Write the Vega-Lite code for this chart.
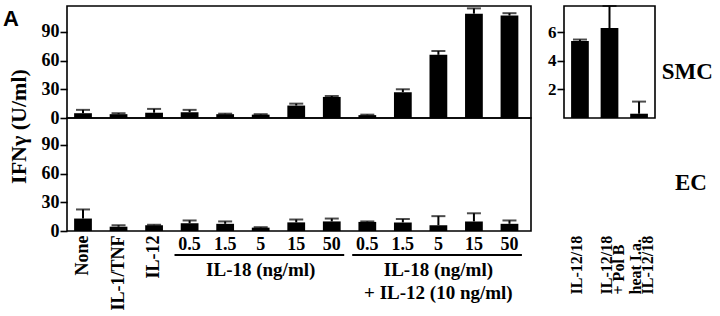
{
  "$schema": "https://vega.github.io/schema/vega-lite/v6.json",
  "padding": {"left": 2, "top": 4, "right": 2, "bottom": 2},
  "config": {
    "view": {"stroke": "black", "strokeWidth": 1.6},
    "font": "Liberation Serif",
    "axis": {"labelFont": "Liberation Serif", "labelFontWeight": "bold", "labelColor": "black", "titleColor": "black", "tickColor": "black", "tickWidth": 1.6, "domainColor": "black", "grid": false, "labelOverlap": false},
    "title": {"color": "black"}
  },
  "datasets": {
    "smc": [
      {"cond": "None", "value": 5, "hi": 8.5},
      {"cond": "IL-1/TNF", "value": 4, "hi": 5},
      {"cond": "IL-12", "value": 5.5, "hi": 9.5},
      {"cond": "IL-18 0.5", "value": 6, "hi": 8.5},
      {"cond": "IL-18 1.5", "value": 4, "hi": 4.5},
      {"cond": "IL-18 5", "value": 3.5, "hi": 4},
      {"cond": "IL-18 15", "value": 13, "hi": 15},
      {"cond": "IL-18 50", "value": 22, "hi": 23},
      {"cond": "IL-18+IL-12 0.5", "value": 3, "hi": 3.5},
      {"cond": "IL-18+IL-12 1.5", "value": 27, "hi": 30},
      {"cond": "IL-18+IL-12 5", "value": 66, "hi": 70},
      {"cond": "IL-18+IL-12 15", "value": 109, "hi": 114.5},
      {"cond": "IL-18+IL-12 50", "value": 107, "hi": 109.5}
    ],
    "ec": [
      {"cond": "None", "value": 13, "hi": 22.5},
      {"cond": "IL-1/TNF", "value": 4.5, "hi": 6},
      {"cond": "IL-12", "value": 6, "hi": 6.5},
      {"cond": "IL-18 0.5", "value": 8, "hi": 11},
      {"cond": "IL-18 1.5", "value": 7.5, "hi": 10},
      {"cond": "IL-18 5", "value": 3.5, "hi": 4},
      {"cond": "IL-18 15", "value": 9, "hi": 12},
      {"cond": "IL-18 50", "value": 10, "hi": 13},
      {"cond": "IL-18+IL-12 0.5", "value": 9.5, "hi": 10},
      {"cond": "IL-18+IL-12 1.5", "value": 9, "hi": 12.5},
      {"cond": "IL-18+IL-12 5", "value": 6, "hi": 15.5},
      {"cond": "IL-18+IL-12 15", "value": 10, "hi": 18.5},
      {"cond": "IL-18+IL-12 50", "value": 7.5, "hi": 11}
    ],
    "inset": [
      {"cond": "IL-12/18", "value": 5.4, "hi": 5.5},
      {"cond": "IL-12/18\n+ Pol B", "value": 6.3, "hi": 7.85},
      {"cond": "heat I.a.\nIL-12/18", "value": 0.3, "hi": 1.15}
    ],
    "groups": [
      {"first": "IL-18 0.5", "mid": "IL-18 5", "last": "IL-18 50", "label": "IL-18 (ng/ml)"},
      {"first": "IL-18+IL-12 0.5", "mid": "IL-18+IL-12 5", "last": "IL-18+IL-12 50", "label": "IL-18 (ng/ml)\n+ IL-12 (10 ng/ml)"}
    ]
  },
  "concat": [
    {
      "width": 464,
      "height": 112,
      "data": {"name": "smc"},
      "title": {"text": "A", "orient": "top", "anchor": "start", "frame": "group", "font": "Liberation Sans", "fontSize": 22, "fontWeight": "bold", "offset": -18, "baseline": "alphabetic", "dx": -64, "dy": 24},
      "encoding": {
        "x": {"field": "cond", "type": "nominal", "axis": null,
          "scale": {"domain": ["None", "IL-1/TNF", "IL-12", "IL-18 0.5", "IL-18 1.5", "IL-18 5", "IL-18 15", "IL-18 50", "IL-18+IL-12 0.5", "IL-18+IL-12 1.5", "IL-18+IL-12 5", "IL-18+IL-12 15", "IL-18+IL-12 50"], "paddingInner": 0.5, "paddingOuter": 0.278, "align": 0.36}}
      },
      "layer": [
        {
          "mark": {"type": "bar", "color": "black"},
          "encoding": {
            "y": {"field": "value", "type": "quantitative", "scale": {"domain": [0, 117], "nice": false},
              "axis": {"values": [0, 30, 60, 90], "tickCount": 10, "domain": false, "tickSize": 7, "labelPadding": 1, "labelFontSize": 18, "labelOverlap": false,
                "title": "IFNγ (U/ml)", "titleFont": "Liberation Serif", "titleFontWeight": "bold", "titleFontSize": 22,
                "titleAngle": 270, "titleX": -42, "titleY": 120, "titleAlign": "center", "titleBaseline": "alphabetic"}}
          }
        },
        {
          "mark": {"type": "rule", "color": "black", "strokeWidth": 2},
          "encoding": {"y": {"field": "value", "type": "quantitative"}, "y2": {"field": "hi"}}
        },
        {
          "mark": {"type": "tick", "color": "black", "thickness": 2, "size": 14},
          "encoding": {"y": {"field": "hi", "type": "quantitative"}}
        }
      ]
    },
    {
      "width": 91,
      "height": 112,
      "data": {"name": "inset"},
      "title": {"text": "SMC", "orient": "right", "angle": 0, "align": "left", "baseline": "middle", "frame": "group", "anchor": "middle", "offset": -45, "dy": 10, "font": "Liberation Serif", "fontSize": 23, "fontWeight": "bold"},
      "encoding": {
        "x": {"field": "cond", "type": "nominal",
          "scale": {"domain": ["IL-12/18", "IL-12/18\n+ Pol B", "heat I.a.\nIL-12/18"], "paddingInner": 0.4, "paddingOuter": 0.24},
          "axis": {"title": null, "domain": false, "ticks": false, "labelAngle": 270, "labelAlign": "left", "labelBaseline": "middle", "labelPadding": 176, "labelOffset": -3, "labelFontSize": 16, "labelLineHeight": 12, "labelExpr": "split(datum.value, '\\n')"}}
      },
      "layer": [
        {
          "mark": {"type": "bar", "color": "black"},
          "encoding": {
            "y": {"field": "value", "type": "quantitative", "scale": {"domain": [0, 7.85], "nice": false},
              "axis": {"values": [2, 4, 6], "tickCount": 10, "domain": false, "tickSize": 7, "labelPadding": 1, "labelFontSize": 17, "labelOverlap": false, "title": null}}
          }
        },
        {
          "mark": {"type": "rule", "color": "black", "strokeWidth": 2},
          "encoding": {"y": {"field": "value", "type": "quantitative"}, "y2": {"field": "hi"}}
        },
        {
          "mark": {"type": "tick", "color": "black", "thickness": 2, "size": 14},
          "encoding": {"y": {"field": "hi", "type": "quantitative"}}
        }
      ]
    },
    {
      "width": 464,
      "height": 113,
      "data": {"name": "ec"},
      "encoding": {
        "x": {"field": "cond", "type": "nominal",
          "scale": {"domain": ["None", "IL-1/TNF", "IL-12", "IL-18 0.5", "IL-18 1.5", "IL-18 5", "IL-18 15", "IL-18 50", "IL-18+IL-12 0.5", "IL-18+IL-12 1.5", "IL-18+IL-12 5", "IL-18+IL-12 15", "IL-18+IL-12 50"], "paddingInner": 0.5, "paddingOuter": 0.278, "align": 0.36},
          "axis": {"title": null, "domain": false, "ticks": false, "labelPadding": 4, "labelFontSize": 18, "labelOverlap": false,
            "labelExpr": "indexof(datum.value, ' ') >= 0 ? split(datum.value, ' ')[1] : datum.value",
            "labelAngle": {"expr": "indexof(datum.value, ' ') >= 0 ? 0 : 270"},
            "labelAlign": {"condition": {"test": "indexof(datum.value, ' ') >= 0", "value": "center"}, "value": "right"},
            "labelBaseline": {"condition": {"test": "indexof(datum.value, ' ') >= 0", "value": "top"}, "value": "middle"}}}
      },
      "layer": [
        {
          "mark": {"type": "bar", "color": "black"},
          "encoding": {
            "y": {"field": "value", "type": "quantitative", "scale": {"domain": [0, 118], "nice": false},
              "axis": {"values": [0, 30, 60, 90], "tickCount": 10, "domain": false, "tickSize": 7, "labelPadding": 1, "labelFontSize": 18, "labelOverlap": false, "title": null}}
          }
        },
        {
          "mark": {"type": "rule", "color": "black", "strokeWidth": 2},
          "encoding": {"y": {"field": "value", "type": "quantitative"}, "y2": {"field": "hi"}}
        },
        {
          "mark": {"type": "tick", "color": "black", "thickness": 2, "size": 14},
          "encoding": {"y": {"field": "hi", "type": "quantitative"}}
        }
      ]
    },
    {
      "width": 91,
      "height": 113,
      "data": {"values": []},
      "view": {"stroke": null},
      "title": {"text": "EC", "orient": "right", "angle": 0, "align": "left", "baseline": "middle", "frame": "group", "anchor": "middle", "offset": -12, "dy": 8, "font": "Liberation Serif", "fontSize": 23, "fontWeight": "bold"},
      "mark": {"type": "rule", "opacity": 0},
      "encoding": {}
    },
    {
      "width": 464,
      "height": 48,
      "data": {"name": "groups"},
      "view": {"stroke": null},
      "layer": [
        {
          "mark": {"type": "rule", "color": "black", "strokeWidth": 2},
          "encoding": {
            "x": {"field": "first", "type": "nominal", "axis": null, "bandPosition": -0.35,
              "scale": {"domain": ["None", "IL-1/TNF", "IL-12", "IL-18 0.5", "IL-18 1.5", "IL-18 5", "IL-18 15", "IL-18 50", "IL-18+IL-12 0.5", "IL-18+IL-12 1.5", "IL-18+IL-12 5", "IL-18+IL-12 15", "IL-18+IL-12 50"], "paddingInner": 0.5, "paddingOuter": 0.278, "align": 0.36}},
            "x2": {"field": "last", "bandPosition": 1.2}
          }
        },
        {
          "mark": {"type": "text", "baseline": "top", "dy": 6, "lineBreak": "\n", "lineHeight": 23, "fontSize": 19, "fontWeight": "bold", "font": "Liberation Serif", "color": "black"},
          "encoding": {
            "x": {"field": "mid", "type": "nominal", "axis": null},
            "text": {"field": "label"}
          }
        }
      ]
    }
  ],
  "columns": 2,
  "spacing": {"row": 0, "column": 33},
  "bounds": "flush"
}
